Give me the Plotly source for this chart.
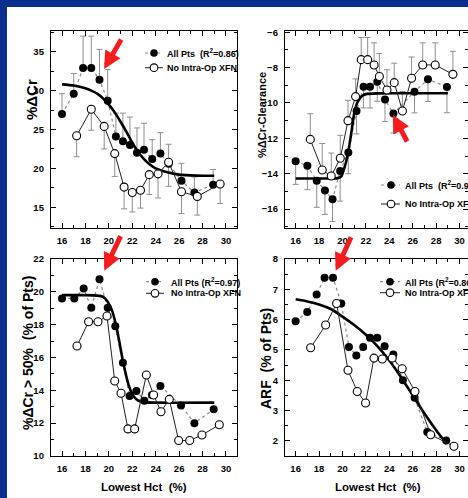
import plotly.graph_objects as go

# ---------------- data ----------------
# Panel A: %ΔCr
cr_all_x = [16.0, 17.0, 17.8, 18.5, 19.2, 19.9, 20.6, 21.2, 21.8, 22.4, 23.0, 23.7, 24.4, 25.1, 26.2, 27.3, 28.9]
cr_all_y = [27.0, 29.6, 32.9, 32.9, 31.4, 28.7, 24.1, 23.5, 23.0, 22.0, 22.4, 21.2, 21.9, 20.6, 18.4, 16.9, 17.9]
cr_all_err = [2.6, 2.6, 4.1, 4.1, 3.9, 4.0, 3.0, 3.6, 3.6, 3.2, 3.4, 2.5, 2.7, 2.5, 2.25, 2.0, 1.95]
cr_no_x = [17.25, 18.5, 19.6, 20.5, 21.3, 22.0, 22.7, 23.45, 24.2, 25.1, 26.2, 27.55, 29.5]
cr_no_y = [24.2, 27.6, 25.4, 21.9, 17.6, 16.9, 17.2, 19.2, 19.3, 20.8, 17.0, 16.4, 18.0]
cr_no_err = [2.7, 2.7, 2.9, 2.95, 2.8, 2.5, 2.3, 2.55, 3.1, 3.1, 2.8, 2.4, 2.5]
cr_fit_x = [16, 17, 18, 18.5, 19, 19.5, 20, 20.5, 21, 21.5, 22, 22.5, 23, 23.5, 24, 25, 26, 27, 28, 29]
cr_fit_y = [30.8, 30.65, 30.3, 30.0, 29.6, 29.0, 28.2, 27.2, 26.0, 24.7, 23.3, 22.1, 21.2, 20.5, 20.0, 19.5, 19.2, 19.1, 19.05, 19.05]

# Panel B: %ΔCr-Clearance
cl_all_x = [16.0, 17.0, 17.8, 18.5, 19.15, 19.8, 20.5, 21.2, 21.8, 22.35, 22.97, 23.63, 24.35, 26.15, 27.3, 28.92]
cl_all_y = [-13.3, -13.55, -14.4, -14.95, -15.45, -13.85, -12.8, -10.45, -9.08, -9.08, -8.8, -9.8, -10.6, -9.36, -8.66, -9.1]
cl_all_err = [1.3, 1.35, 1.5, 1.35, 1.25, 1.7, 1.2, 1.3, 1.2, 1.2, 1.1, 1.25, 1.1, 1.2, 1.25, 1.45]
cl_no_x = [17.25, 18.27, 19.04, 19.81, 20.47, 21.12, 21.6, 22.15, 22.7, 23.15, 23.8, 24.42, 25.12, 25.9, 26.85, 27.92, 29.43]
cl_no_y = [-12.06, -13.79, -14.13, -13.13, -11.0, -9.64, -7.55, -7.55, -7.85, -8.5, -9.27, -8.85, -10.45, -8.6, -7.85, -7.85, -8.38]
cl_no_err = [1.45, 1.5, 1.3, 1.3, 1.15, 1.0, 1.25, 1.25, 1.25, 1.3, 1.15, 1.1, 1.1, 1.2, 1.25, 1.25, 1.3]
cl_fit_x = [16.0, 19.0, 19.6, 19.9, 20.1, 20.3, 20.5, 20.75, 21.0, 21.25, 21.5, 21.75, 22.0, 23.0, 25.0, 29.0]
cl_fit_y = [-14.27, -14.27, -14.25, -14.15, -13.8, -13.35, -12.75, -11.7, -10.6, -10.0, -9.72, -9.57, -9.5, -9.46, -9.45, -9.45]

# Panel C: %ΔCr > 50% (% of Pts)
pct_all_x = [16.0, 17.05, 17.85, 18.5, 19.2, 19.9, 20.55, 21.2, 21.77, 22.35, 23.03, 23.68, 24.4, 26.16, 27.3, 28.95]
pct_all_y = [19.6, 19.6, 20.2, 19.03, 20.76, 19.03, 17.9, 15.68, 13.66, 13.96, 13.37, 13.72, 14.27, 13.07, 12.0, 12.85]
pct_no_x = [17.28, 18.27, 19.07, 19.84, 20.5, 21.04, 21.63, 22.2, 23.2, 23.82, 24.45, 25.16, 25.96, 26.9, 27.95, 29.43]
pct_no_y = [16.7, 18.18, 18.18, 18.53, 14.57, 13.82, 11.65, 11.65, 14.93, 13.72, 12.7, 13.45, 10.94, 10.94, 11.28, 11.9]
pct_fit_x = [16, 17, 18, 19, 19.5, 19.9, 20.25, 20.5, 20.7, 20.9, 21.1, 21.3, 21.5, 21.7, 21.9, 22.2, 22.5, 23, 24, 29]
pct_fit_y = [19.8, 19.8, 19.8, 19.77, 19.7, 19.4, 18.9, 18.3, 17.68, 16.95, 16.15, 15.45, 14.83, 14.3, 13.92, 13.55, 13.38, 13.28, 13.25, 13.25]

# Panel D: ARF (% of Pts)
arf_all_x = [16.0, 16.99, 17.79, 18.47, 19.19, 19.9, 20.55, 21.18, 21.77, 22.35, 22.97, 23.6, 24.34, 25.16, 26.16, 27.24, 28.86]
arf_all_y = [5.95, 6.25, 6.83, 7.38, 7.38, 6.53, 5.1, 4.82, 5.1, 5.4, 5.4, 5.12, 4.85, 4.0, 3.42, 2.29, 2.01]
arf_no_x = [17.28, 18.56, 19.5, 20.47, 21.26, 21.97, 22.69, 23.4, 24.25, 25.1, 26.19, 27.53, 29.52]
arf_no_y = [5.07, 5.82, 6.53, 4.33, 3.63, 3.25, 4.73, 4.7, 4.73, 4.38, 3.63, 2.2, 1.82]
arf_fit_x = [16, 17, 18, 19, 20, 21, 22, 23, 24, 25, 26, 27, 28, 28.9]
arf_fit_y = [6.67, 6.6, 6.5, 6.35, 6.1, 5.82, 5.5, 5.12, 4.65, 4.1, 3.5, 2.9, 2.35, 1.9]

x_ticks = [16, 18, 20, 22, 24, 26, 28, 30]
legend_all = ["All Pts&nbsp; (R<sup>2</sup>=0.86)", "All Pts&nbsp; (R<sup>2</sup>=0.92)",
              "All Pts (R<sup>2</sup>=0.97)", "All Pts (R<sup>2</sup>=0.86)"]
legend_no = "No Intra-Op XFN"
y_titles = ["%ΔCr", "%ΔCr-Clearance", "%ΔCr &gt; 50%&nbsp; (% of Pts)", "ARF&nbsp; (% of Pts)"]
x_title = "Lowest Hct&nbsp; (%)"

# ---------------- layout helpers ----------------
W, H = 468, 498
BG = "#0b2f8f"
SANS = "Liberation Sans, Arial, Helvetica, sans-serif"
ERR = "#8e8e8e"


def px_x(p):
    return p / W


def px_y(p):
    return 1 - p / H


fig = go.Figure()


def add_panel(idx, all_x, all_y, no_x, no_y, fit_x, fit_y,
              all_err=None, no_err=None, all_up=True):
    xa = "x" if idx == 1 else f"x{idx}"
    ya = "y" if idx == 1 else f"y{idx}"
    zeros_a = [0] * len(all_x)
    zeros_n = [0] * len(no_x)
    if all_err is not None:
        fig.add_trace(go.Scatter(
            x=all_x, y=all_y, mode="markers", xaxis=xa, yaxis=ya, showlegend=False,
            marker=dict(size=1, color="rgba(0,0,0,0)"), hoverinfo="skip",
            error_y=dict(type="data", symmetric=False,
                         array=all_err if all_up else zeros_a,
                         arrayminus=zeros_a if all_up else all_err,
                         color=ERR, thickness=1, width=3)))
    if no_err is not None:
        fig.add_trace(go.Scatter(
            x=no_x, y=no_y, mode="markers", xaxis=xa, yaxis=ya, showlegend=False,
            marker=dict(size=1, color="rgba(0,0,0,0)"), hoverinfo="skip",
            error_y=dict(type="data", symmetric=False,
                         array=zeros_n if all_up else no_err,
                         arrayminus=no_err if all_up else zeros_n,
                         color=ERR, thickness=1, width=3)))
    fig.add_trace(go.Scatter(
        x=all_x, y=all_y, mode="lines+markers", xaxis=xa, yaxis=ya, showlegend=False,
        line=dict(color="#8a8a8a", width=1.2, dash="dot"),
        marker=dict(size=8, color="black", line=dict(width=0))))
    fig.add_trace(go.Scatter(
        x=fit_x, y=fit_y, mode="lines", xaxis=xa, yaxis=ya, showlegend=False,
        line=dict(color="black", width=2.6, shape="spline", smoothing=0.6)))
    fig.add_trace(go.Scatter(
        x=no_x, y=no_y, mode="lines+markers", xaxis=xa, yaxis=ya, showlegend=False,
        line=dict(color="#222222", width=1),
        marker=dict(size=8, color="white", line=dict(width=1.1, color="black"))))


add_panel(1, cr_all_x, cr_all_y, cr_no_x, cr_no_y, cr_fit_x, cr_fit_y,
          cr_all_err, cr_no_err, all_up=True)
add_panel(2, cl_all_x, cl_all_y, cl_no_x, cl_no_y, cl_fit_x, cl_fit_y,
          cl_all_err, cl_no_err, all_up=False)
add_panel(3, pct_all_x, pct_all_y, pct_no_x, pct_no_y, pct_fit_x, pct_fit_y)
add_panel(4, arf_all_x, arf_all_y, arf_no_x, arf_no_y, arf_fit_x, arf_fit_y)

tick_font = dict(family=SANS, size=9.5, color="black", weight="bold")


def xaxis(dom, rng, anchor):
    return dict(domain=dom, range=rng, anchor=anchor, tickvals=x_ticks, automargin=False,
                showline=True, linecolor="black", linewidth=1.3, mirror="ticks",
                ticks="inside", ticklen=5, tickwidth=1.2, tickcolor="black",
                minor=dict(dtick=1, tick0=0, ticks="inside", ticklen=3, tickwidth=1, tickcolor="black"),
                showgrid=False, zeroline=False, tickfont=tick_font, ticklabelstandoff=3)


def yaxis(dom, rng, anchor, dtick, minor):
    return dict(domain=dom, range=rng, anchor=anchor, dtick=dtick, tick0=0, automargin=False,
                showline=True, linecolor="black", linewidth=1.3, mirror="ticks",
                ticks="inside", ticklen=5, tickwidth=1.2, tickcolor="black",
                minor=dict(dtick=minor, tick0=0, ticks="inside", ticklen=3, tickwidth=1, tickcolor="black"),
                showgrid=False, zeroline=False, tickfont=tick_font, ticklabelstandoff=4)


XL = [px_x(51), px_x(237)]
XR = [px_x(285), 1.0]
YT = [px_y(228), px_y(31)]
YB = [px_y(456), px_y(259)]
RL = [15.06, 30.94]
RR = [15.09, 30.72]

fig.update_layout(
    xaxis=xaxis(XL, RL, "y"), yaxis=yaxis(YT, [12.34, 37.66], "x", 5, 2.5),
    xaxis2=xaxis(XR, RR, "y2"), yaxis2=yaxis(YT, [-17.07, -5.93], "x2", 2, 1),
    xaxis3=xaxis(XL, RL, "y3"), yaxis3=yaxis(YB, [10, 22], "x3", 2, 1),
    xaxis4=xaxis(XR, RR, "y4"), yaxis4=yaxis(YB, [1.5, 8], "x4", 1, 0.5),
)

shapes = [dict(type="rect", xref="paper", yref="paper", x0=px_x(7), x1=1.03,
               y0=-0.03, y1=px_y(7), fillcolor="white", line=dict(width=0), layer="below")]
annotations = []

# legends (drawn as glyph + text)
leg_pos = [  # (line x0, line x1, marker x, text x, row1 y, row2 y)
    (145, 163, 154, 165, 53, 67.7),
    (381, 400, 391, 403, 185, 204),
    (146, 164, 155, 169, 281.7, 293.3),
    (380, 400, 390, 403, 281.7, 292.7),
]
leg_font = dict(family=SANS, size=9, color="black", weight="bold")
for i, (l0, l1, mx, tx, y1, y2) in enumerate(leg_pos):
    r = 3.8
    shapes.append(dict(type="line", xref="paper", yref="paper", x0=px_x(l0), x1=px_x(l1),
                       y0=px_y(y1), y1=px_y(y1), line=dict(color="#8a8a8a", width=1.2, dash="dot")))
    shapes.append(dict(type="circle", xref="paper", yref="paper", x0=px_x(mx - r), x1=px_x(mx + r),
                       y0=px_y(y1 + r), y1=px_y(y1 - r), fillcolor="black", line=dict(width=0)))
    shapes.append(dict(type="line", xref="paper", yref="paper", x0=px_x(l0), x1=px_x(l1),
                       y0=px_y(y2), y1=px_y(y2), line=dict(color="#222222", width=1)))
    shapes.append(dict(type="circle", xref="paper", yref="paper", x0=px_x(mx - r), x1=px_x(mx + r),
                       y0=px_y(y2 + r), y1=px_y(y2 - r), fillcolor="white", line=dict(width=1.1, color="black")))
    annotations.append(dict(text=legend_all[i], xref="paper", yref="paper", x=px_x(tx), y=px_y(y1),
                            xanchor="left", yanchor="middle", showarrow=False, font=leg_font))
    annotations.append(dict(text=legend_no, xref="paper", yref="paper", x=px_x(tx), y=px_y(y2),
                            xanchor="left", yanchor="middle", showarrow=False, font=leg_font))

# axis titles
ytitle_pos = [(31, 100, 15), (262, 115, 11), (28, 353, 14), (266, 359, 14)]
for t, (x, y, s) in zip(y_titles, ytitle_pos):
    annotations.append(dict(text=t, xref="paper", yref="paper", x=px_x(x), y=px_y(y),
                            xanchor="center", yanchor="middle", textangle=-90, showarrow=False,
                            font=dict(family=SANS, size=s, color="black", weight="bold")))
for x in (144, 378):
    annotations.append(dict(text=x_title, xref="paper", yref="paper", x=px_x(x), y=px_y(487),
                            xanchor="center", yanchor="middle", showarrow=False,
                            font=dict(family=SANS, size=11.5, color="black", weight="bold")))

# red arrows
arrows = [("x", "y", 19.59, 32.78, 18, -31), ("x2", "y2", 24.31, -10.68, 15, 28),
          ("x3", "y3", 19.61, 21.29, 17, -36), ("x4", "y4", 19.42, 7.61, 16, -35)]
for xr, yr, x, y, ax, ay in arrows:
    annotations.append(dict(text="", xref=xr, yref=yr, x=x, y=y, ax=ax, ay=ay,
                            showarrow=True, arrowhead=2, arrowsize=0.7, arrowwidth=5,
                            arrowcolor="#f41c1c", standoff=0))

fig.update_layout(
    width=W, height=H, margin=dict(l=0, r=0, t=0, b=0, autoexpand=False),
    paper_bgcolor=BG, plot_bgcolor="white", showlegend=False,
    shapes=shapes, annotations=annotations,
    modebar=dict(bgcolor="rgba(0,0,0,0)", color="rgba(0,0,0,0)", activecolor="rgba(0,0,0,0)"),
)

fig.write_html("out.html", config={"displaylogo": False}, post_script=(
    "document.documentElement.style.margin='0';"
    "document.documentElement.style.background='#ffffff';"
    "document.body.style.margin='0';"
    "document.body.style.background='#ffffff';"
    "document.body.style.overflow='hidden';"
))
